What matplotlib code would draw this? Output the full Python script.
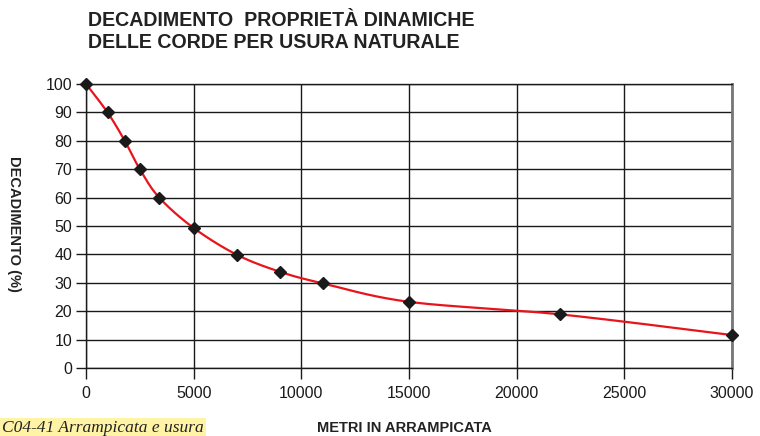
import numpy as np
import matplotlib.pyplot as plt

# data
metri = [0, 1000, 1800, 2500, 3400, 5000, 7000, 9000, 11000, 15000, 22000, 30000]
decadimento = [100, 90, 80, 70, 60, 49.3, 39.9, 33.9, 29.8, 23.3, 18.9, 11.6]
x_ticks = [0, 5000, 10000, 15000, 20000, 25000, 30000]
y_ticks = list(range(0, 101, 10))

title_lines = ["DECADIMENTO  PROPRIETÀ DINAMICHE", "DELLE CORDE PER USURA NATURALE"]
x_label = "METRI IN ARRAMPICATA"
y_label = "DECADIMENTO (%)"
caption = "C04-41 Arrampicata e usura"


def smooth_curve(xs, ys, n=40):
    """Catmull-Rom style bezier through the points (like a smoothed line)."""
    p = np.column_stack([xs, ys]).astype(float)
    p = np.vstack([p[0], p, p[-1]])
    t = np.linspace(0, 1, n)[:, None]
    out = []
    for i in range(1, len(p) - 2):
        p0, p1, p2, p3 = p[i - 1], p[i], p[i + 1], p[i + 2]
        c1 = p1 + (p2 - p0) / 6
        c2 = p2 - (p3 - p1) / 6
        seg = ((1 - t) ** 3) * p1 + 3 * ((1 - t) ** 2) * t * c1 \
            + 3 * (1 - t) * t ** 2 * c2 + t ** 3 * p2
        out.append(seg)
    out = np.vstack(out)
    return out[:, 0], out[:, 1]


plt.rcParams["font.family"] = ["Liberation Sans", "DejaVu Sans"]
W, H = 760, 436

fig = plt.figure(figsize=(W / 100, H / 100), dpi=100)
ax = fig.add_axes([86 / W, 1 - 368 / H, (732 - 86) / W, (368 - 84) / H])

ax.set_xlim(0, 30000)
ax.set_ylim(0, 100)
ax.set_xticks(x_ticks)
ax.set_yticks(y_ticks)
ax.grid(True, color="#1a1a1a", linewidth=1.0)
ax.set_axisbelow(True)

for side in ["left", "bottom", "top"]:
    ax.spines[side].set_color("#1a1a1a")
    ax.spines[side].set_linewidth(1.0)
ax.spines["right"].set_color("#777777")
ax.spines["right"].set_linewidth(2.0)

ax.tick_params(axis="x", length=8, width=1.0, color="#1a1a1a", pad=5,
               labelsize=11.5, labelcolor="#1a1a1a")
ax.tick_params(axis="y", length=7, width=1.0, color="#1a1a1a", pad=3,
               labelsize=11.5, labelcolor="#1a1a1a")

cx, cy = smooth_curve(metri, decadimento)
ax.plot(cx, cy, color="#e8141c", linewidth=1.6, zorder=3, clip_on=False)
ax.plot(metri, decadimento, linestyle="none", marker="D", markersize=6.5,
        color="#1a1a1a", zorder=4, clip_on=False)

for i, line in enumerate(title_lines):
    fig.text(88 / W, 1 - (26 + 22 * i) / H, line, ha="left", va="baseline",
             fontsize=14.1, fontweight="bold", color="#222222")
fig.text(14 / W, 1 - 224 / H, y_label, rotation=-90, ha="center",
         va="center", fontsize=10.5, fontweight="bold", color="#222222")
fig.text(404 / W, 1 - 428 / H, x_label, ha="center", va="center",
         fontsize=10.5, fontweight="bold", color="#222222")
fig.text(2 / W, 1 - 428 / H, caption, ha="left", va="center",
         fontsize=12.5, style="italic", color="#222222",
         family=["Liberation Serif", "DejaVu Serif"],
         bbox=dict(boxstyle="square,pad=0.12", facecolor="#fff3a6",
                   edgecolor="none"))

fig.savefig("out.png", dpi=100)
